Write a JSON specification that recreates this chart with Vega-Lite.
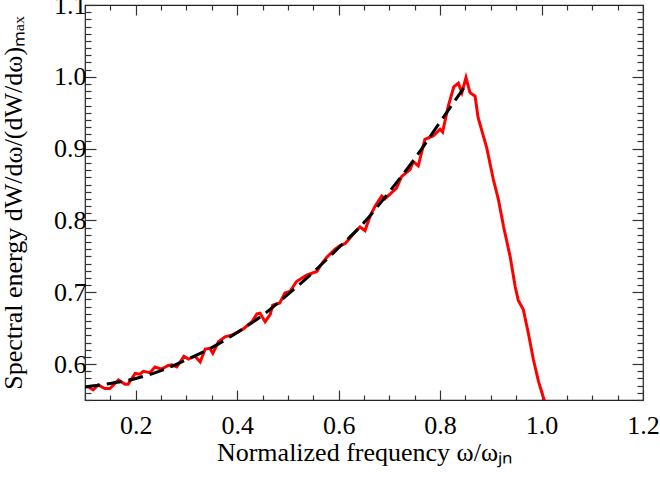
{
  "$schema": "https://vega.github.io/schema/vega-lite/v6.json",
  "autosize": {"type": "none"},
  "padding": {"left": 85, "top": 5, "right": 17, "bottom": 77},
  "width": 558,
  "height": 395,
  "background": "white",
  "config": {
    "view": {"stroke": "#222222", "strokeWidth": 1.2},
    "axis": {
      "domain": false,
      "grid": false,
      "labelFont": "Liberation Serif",
      "labelFontSize": 26,
      "labelColor": "black",
      "titleFont": "Liberation Serif",
      "titleFontSize": 26,
      "titleFontWeight": "normal",
      "titleColor": "black",
      "tickColor": "#333333",
      "tickWidth": 1.2,
      "labelOverlap": false,
      "labelFlush": false,
      "labelBound": false
    }
  },
  "layer": [
    {
      "data": {"values": [
        {"w": 0.100, "e": 0.569}, {"w": 0.107, "e": 0.568}, {"w": 0.116, "e": 0.564}, {"w": 0.126, "e": 0.571},
        {"w": 0.139, "e": 0.566}, {"w": 0.149, "e": 0.566}, {"w": 0.166, "e": 0.578}, {"w": 0.179, "e": 0.572},
        {"w": 0.185, "e": 0.572}, {"w": 0.199, "e": 0.587}, {"w": 0.208, "e": 0.586}, {"w": 0.215, "e": 0.590},
        {"w": 0.228, "e": 0.588}, {"w": 0.238, "e": 0.596}, {"w": 0.251, "e": 0.593}, {"w": 0.264, "e": 0.598},
        {"w": 0.271, "e": 0.599}, {"w": 0.281, "e": 0.596}, {"w": 0.295, "e": 0.611}, {"w": 0.304, "e": 0.607},
        {"w": 0.317, "e": 0.611}, {"w": 0.327, "e": 0.603}, {"w": 0.337, "e": 0.621}, {"w": 0.346, "e": 0.622},
        {"w": 0.352, "e": 0.615}, {"w": 0.363, "e": 0.631}, {"w": 0.376, "e": 0.638}, {"w": 0.392, "e": 0.641},
        {"w": 0.412, "e": 0.649}, {"w": 0.429, "e": 0.659}, {"w": 0.439, "e": 0.670}, {"w": 0.445, "e": 0.671},
        {"w": 0.455, "e": 0.659}, {"w": 0.465, "e": 0.669}, {"w": 0.470, "e": 0.682}, {"w": 0.484, "e": 0.685},
        {"w": 0.494, "e": 0.699}, {"w": 0.504, "e": 0.701}, {"w": 0.517, "e": 0.715}, {"w": 0.537, "e": 0.724},
        {"w": 0.557, "e": 0.729}, {"w": 0.567, "e": 0.740}, {"w": 0.577, "e": 0.749}, {"w": 0.593, "e": 0.760},
        {"w": 0.603, "e": 0.765}, {"w": 0.613, "e": 0.768}, {"w": 0.629, "e": 0.781}, {"w": 0.642, "e": 0.791},
        {"w": 0.652, "e": 0.786}, {"w": 0.662, "e": 0.806}, {"w": 0.672, "e": 0.820}, {"w": 0.685, "e": 0.834},
        {"w": 0.691, "e": 0.830}, {"w": 0.705, "e": 0.839}, {"w": 0.714, "e": 0.845}, {"w": 0.724, "e": 0.861},
        {"w": 0.741, "e": 0.871}, {"w": 0.747, "e": 0.882}, {"w": 0.757, "e": 0.876}, {"w": 0.770, "e": 0.913},
        {"w": 0.787, "e": 0.918}, {"w": 0.800, "e": 0.927}, {"w": 0.805, "e": 0.923}, {"w": 0.816, "e": 0.959},
        {"w": 0.827, "e": 0.986}, {"w": 0.836, "e": 0.991}, {"w": 0.843, "e": 0.978}, {"w": 0.851, "e": 0.999},
        {"w": 0.859, "e": 0.978}, {"w": 0.869, "e": 0.973}, {"w": 0.875, "e": 0.943}, {"w": 0.892, "e": 0.901},
        {"w": 0.905, "e": 0.857}, {"w": 0.915, "e": 0.829}, {"w": 0.925, "e": 0.792}, {"w": 0.938, "e": 0.750},
        {"w": 0.948, "e": 0.708}, {"w": 0.954, "e": 0.689}, {"w": 0.964, "e": 0.676}, {"w": 0.974, "e": 0.643},
        {"w": 0.984, "e": 0.606}, {"w": 0.994, "e": 0.576}, {"w": 1.003, "e": 0.555}, {"w": 1.008, "e": 0.545}
      ]},
      "mark": {"type": "line", "color": "#ff0000", "strokeWidth": 3, "clip": true},
      "encoding": {
        "x": {
          "field": "w", "type": "quantitative",
          "scale": {"domain": [0.1, 1.2], "nice": false, "zero": false},
          "axis": {
            "orient": "bottom",
            "title": "Normalized frequency ω/ωⱼₙ",
            "values": [0.1, 0.15, 0.2, 0.25, 0.3, 0.35, 0.4, 0.45, 0.5, 0.55, 0.6, 0.65, 0.7, 0.75, 0.8, 0.85, 0.9, 0.95, 1.0, 1.05, 1.1, 1.15, 1.2],
            "tickSize": {"condition": {"test": "abs(datum.value*5 - round(datum.value*5)) < 0.001", "value": -10}, "value": -5},
            "labelExpr": "abs(datum.value*5 - round(datum.value*5)) < 0.001 ? format(datum.value, '.1f') : ''",
            "labelPadding": 22,
            "titlePadding": -4
          }
        },
        "y": {
          "field": "e", "type": "quantitative",
          "scale": {"domain": [0.55, 1.1], "nice": false, "zero": false},
          "axis": {
            "orient": "left",
            "title": "Spectral energy dW/dω/(dW/dω)ₘₐₓ",
            "values": [0.55, 0.56, 0.57, 0.58, 0.59, 0.6, 0.61, 0.62, 0.63, 0.64, 0.65, 0.66, 0.67, 0.68, 0.69, 0.7, 0.71, 0.72, 0.73, 0.74, 0.75, 0.76, 0.77, 0.78, 0.79, 0.8, 0.81, 0.82, 0.83, 0.84, 0.85, 0.86, 0.87, 0.88, 0.89, 0.9, 0.91, 0.92, 0.93, 0.94, 0.95, 0.96, 0.97, 0.98, 0.99, 1.0, 1.01, 1.02, 1.03, 1.04, 1.05, 1.06, 1.07, 1.08, 1.09, 1.1],
            "tickSize": {"condition": {"test": "abs(datum.value*10 - round(datum.value*10)) < 0.001", "value": -11}, "value": -6},
            "labelExpr": "abs(datum.value*10 - round(datum.value*10)) < 0.001 ? format(datum.value, '.1f') : ''",
            "labelPadding": 10,
            "titlePadding": 27
          }
        }
      }
    },
    {
      "data": {"values": [
        {"w": 0.100, "e": 0.568}, {"w": 0.150, "e": 0.573}, {"w": 0.200, "e": 0.580}, {"w": 0.250, "e": 0.591},
        {"w": 0.300, "e": 0.606}, {"w": 0.350, "e": 0.623}, {"w": 0.400, "e": 0.644}, {"w": 0.450, "e": 0.668},
        {"w": 0.500, "e": 0.697}, {"w": 0.550, "e": 0.728}, {"w": 0.600, "e": 0.762}, {"w": 0.650, "e": 0.797},
        {"w": 0.700, "e": 0.840}, {"w": 0.750, "e": 0.886}, {"w": 0.800, "e": 0.937}, {"w": 0.851, "e": 0.989}
      ]},
      "mark": {"type": "line", "color": "black", "strokeWidth": 3, "strokeDash": [15, 7], "interpolate": "monotone", "clip": true},
      "encoding": {
        "x": {
          "field": "w", "type": "quantitative",
          "scale": {"domain": [0.1, 1.2], "nice": false, "zero": false},
          "axis": {
            "orient": "top",
            "title": null,
            "labels": false,
            "values": [0.1, 0.15, 0.2, 0.25, 0.3, 0.35, 0.4, 0.45, 0.5, 0.55, 0.6, 0.65, 0.7, 0.75, 0.8, 0.85, 0.9, 0.95, 1.0, 1.05, 1.1, 1.15, 1.2],
            "tickSize": {"condition": {"test": "abs(datum.value*5 - round(datum.value*5)) < 0.001", "value": -10}, "value": -5}
          }
        },
        "y": {
          "field": "e", "type": "quantitative",
          "scale": {"domain": [0.55, 1.1], "nice": false, "zero": false},
          "axis": {
            "orient": "right",
            "title": null,
            "labels": false,
            "values": [0.55, 0.56, 0.57, 0.58, 0.59, 0.6, 0.61, 0.62, 0.63, 0.64, 0.65, 0.66, 0.67, 0.68, 0.69, 0.7, 0.71, 0.72, 0.73, 0.74, 0.75, 0.76, 0.77, 0.78, 0.79, 0.8, 0.81, 0.82, 0.83, 0.84, 0.85, 0.86, 0.87, 0.88, 0.89, 0.9, 0.91, 0.92, 0.93, 0.94, 0.95, 0.96, 0.97, 0.98, 0.99, 1.0, 1.01, 1.02, 1.03, 1.04, 1.05, 1.06, 1.07, 1.08, 1.09, 1.1],
            "tickSize": {"condition": {"test": "abs(datum.value*10 - round(datum.value*10)) < 0.001", "value": -11}, "value": -6}
          }
        }
      }
    }
  ],
  "resolve": {"axis": {"x": "independent", "y": "independent"}}
}
